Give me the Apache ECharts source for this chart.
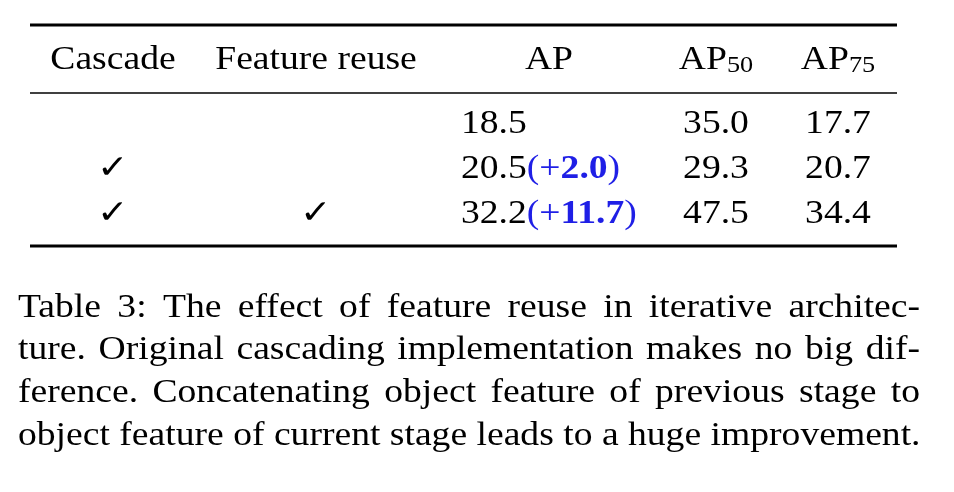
<!DOCTYPE html>
<html>
<head>
<meta charset="utf-8">
<script src="https://cdn.jsdelivr.net/npm/echarts@6/dist/echarts.min.js"></script>
<style>html,body{margin:0;background:#fff}#main{width:954px;height:492px}</style>
</head>
<body>
<div id="main"></div>
<script>
var headers = ['Cascade', 'Feature reuse', 'AP', 'AP50', 'AP75'];
var cascade = [false, true, true];
var featureReuse = [false, false, true];
var ap = ['18.5', '20.5', '32.2'];
var apGain = ['', '+2.0', '+11.7'];
var ap50 = ['35.0', '29.3', '47.5'];
var ap75 = ['17.7', '20.7', '34.4'];
var caption = [
  'Table 3: The effect of feature reuse in iterative architec-',
  'ture. Original cascading implementation makes no big dif-',
  'ference. Concatenating object feature of previous stage to',
  'object feature of current stage leads to a huge improvement.'
];

var font = '"Liberation Serif", "DejaVu Serif", serif';
var fs = 33;
var sx = 1.14; // the reference text is set wide
var colX = [113, 316, 549, 716, 838];
var apLeft = 461;
var rowY = [124, 169, 214];
var g = [];

function txt(x, y, s, align, extra) {
  var st = {x: 0, y: 0, text: s, fill: '#000', font: fs + 'px ' + font, align: align || 'center', verticalAlign: 'middle'};
  if (extra) for (var k in extra) st[k] = extra[k];
  g.push({type: 'text', x: x, y: y, scaleX: sx, style: st});
}
function rule(y, w) {
  g.push({type: 'line', shape: {x1: 30, y1: y, x2: 897, y2: y}, style: {stroke: '#000', lineWidth: w}});
}

rule(25, 3); rule(93, 1.5); rule(246, 3);

var subRich = {
  b: {font: fs + 'px ' + font, fill: '#000'},
  s: {font: Math.round(fs * 0.7) + 'px ' + font, fill: '#000', padding: [12, 0, 0, 0]}
};
headers.forEach(function (h, i) {
  if (h.indexOf('AP') === 0 && h.length > 2) {
    txt(colX[i], 60, '{b|AP}{s|' + h.slice(2) + '}', 'center', {rich: subRich});
  } else txt(colX[i], 60, h, 'center');
});

var apRich = {
  n: {font: fs + 'px ' + font, fill: '#000'},
  p: {font: fs + 'px ' + font, fill: '#1f1fe6'},
  q: {font: 'bold ' + fs + 'px ' + font, fill: '#1f1fe6'}
};
rowY.forEach(function (y, r) {
  if (cascade[r]) txt(colX[0], y, '\u2713');
  if (featureReuse[r]) txt(colX[1], y, '\u2713');
  var s = '{n|' + ap[r] + '}';
  if (apGain[r]) s += '{p|(' + apGain[r][0] + '}{q|' + apGain[r].slice(1) + '}{p|)}';
  txt(apLeft, y, s, 'left', {rich: apRich});
  txt(colX[3], y, ap50[r]);
  txt(colX[4], y, ap75[r]);
});

// caption, justified between x0 and x1
var cx0 = 18, cx1 = 920, capY = [308, 350, 393, 436];
var ctx = document.createElement('canvas').getContext('2d');
ctx.font = fs + 'px ' + font;
function wid(w) { return ctx.measureText(w).width * sx; }
caption.forEach(function (line, i) {
  var words = line.split(' ');
  if (i === caption.length - 1) { txt(cx0, capY[i], line, 'left'); return; }
  var total = 0;
  words.forEach(function (w) { total += wid(w); });
  var gap = (cx1 - cx0 - total) / (words.length - 1);
  var x = cx0;
  words.forEach(function (w) {
    txt(x, capY[i], w, 'left');
    x += wid(w) + gap;
  });
});

var chart = echarts.init(document.getElementById('main'));
chart.setOption({backgroundColor: '#fff', graphic: {elements: g}});
</script>
</body>
</html>
